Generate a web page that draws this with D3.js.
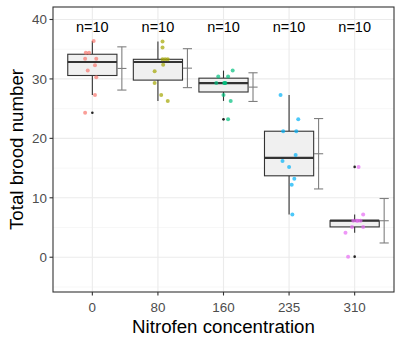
<!DOCTYPE html>
<html>
<head>
<meta charset="utf-8">
<style>
  body { margin: 0; background: #fff; }
  text { font-family: "Liberation Sans", Arial, sans-serif; }
</style>
</head>
<body>
<svg id="chart" width="402" height="344"></svg>
<script src="https://cdn.jsdelivr.net/npm/d3@7"></script>
<script>
// concentration groups
const groups = ["0", "80", "160", "235", "310"]
const colors = ["#F8766D", "#A3A500", "#00BF7D", "#00B0F6", "#E76BF3"]

// total brood number per replicate
const brood0   = [36.4, 34.4, 34.4, 33.4, 33.4, 32.3, 31.4, 30.3, 27.3, 24.3]
const brood80  = [36.3, 35.3, 33.3, 33.3, 33.3, 32.4, 31.3, 29.3, 27.3, 26.3]
const brood160 = [31.4, 30.4, 30.4, 29.3, 29.3, 29.3, 29.3, 27.3, 26.3, 23.2]
const brood235 = [27.3, 23.2, 21.2, 21.2, 17.2, 16.2, 15.2, 13.2, 12.2, 7.2]
const brood310 = [15.2, 7.2, 6.15, 6.15, 6.15, 6.15, 5.1, 5.1, 4.1, 0.1]

// horizontal jitter of each point (fraction of category step)
const jit0   = [0.02, -0.1, -0.05, -0.11, 0.06, 0.04, -0.07, 0.06, 0.04, -0.11]
const jit80  = [0.07, 0.07, 0.07, 0.11, 0.15, 0.08, -0.05, -0.05, 0.05, 0.15]
const jit160 = [0.14, -0.08, 0.07, -0.11, 0.02, 0.03, 0.01, 0, 0.11, 0.07]
const jit235 = [-0.13, 0.14, -0.09, 0.11, 0.1, -0.1, 0, 0.08, 0.04, 0.05]
const jit310 = [0.06, 0.13, -0.02, 0.03, 0.09, 0.05, -0.04, 0.13, -0.14, -0.1]

const yTicks = [0, 10, 20, 30, 40]
const yMinor = [-5, 5, 15, 25, 35]
const labelValue = 38.7

const allBrood = [brood0, brood80, brood160, brood235, brood310]
const allJit = [jit0, jit80, jit160, jit235, jit310]

let svg = d3.select("#chart")
let pLeft = 53, pRight = 394, pTop = 7, pBottom = 292

let x = d3.scalePoint().domain(groups).range([pLeft, pRight]).padding(0.6)
let y = d3.scaleLinear().domain([-5.85, 42.1]).range([pBottom, pTop])
let step = x.step()

// grid
let grid = svg.append("g")
grid.selectAll(".minor").data(yMinor).enter().append("line")
    .attr("x1", pLeft).attr("x2", pRight)
    .attr("y1", d => y(d)).attr("y2", d => y(d))
    .attr("stroke", "#F2F2F2").attr("stroke-width", 0.6)
grid.selectAll(".major").data(yTicks).enter().append("line")
    .attr("x1", pLeft).attr("x2", pRight)
    .attr("y1", d => y(d)).attr("y2", d => y(d))
    .attr("stroke", "#EBEBEB").attr("stroke-width", 1.1)
grid.selectAll(".vmajor").data(groups).enter().append("line")
    .attr("x1", d => x(d)).attr("x2", d => x(d))
    .attr("y1", pTop).attr("y2", pBottom)
    .attr("stroke", "#EBEBEB").attr("stroke-width", 1.1)

// box stats (R type 7 quantiles)
let stats = allBrood.map((vals, i) => {
    let s = vals.slice().sort(d3.ascending)
    let q1 = d3.quantile(s, 0.25), med = d3.quantile(s, 0.5), q3 = d3.quantile(s, 0.75)
    let iqr = q3 - q1
    let inside = s.filter(v => v >= q1 - 1.5 * iqr && v <= q3 + 1.5 * iqr)
    return {
        g: groups[i], q1, med, q3,
        lo: d3.min(inside), hi: d3.max(inside),
        out: s.filter(v => v < q1 - 1.5 * iqr || v > q3 + 1.5 * iqr),
        mean: d3.mean(vals), sd: d3.deviation(vals)
    }
})

let boxW = step * 0.75
let boxes = svg.append("g").selectAll("g").data(stats).enter().append("g")
boxes.append("line")
    .attr("x1", d => x(d.g)).attr("x2", d => x(d.g))
    .attr("y1", d => y(d.hi)).attr("y2", d => y(d.q3))
    .attr("stroke", "#333").attr("stroke-width", 1.1)
boxes.append("line")
    .attr("x1", d => x(d.g)).attr("x2", d => x(d.g))
    .attr("y1", d => y(d.q1)).attr("y2", d => y(d.lo))
    .attr("stroke", "#333").attr("stroke-width", 1.1)
boxes.append("rect")
    .attr("x", d => x(d.g) - boxW / 2).attr("width", boxW)
    .attr("y", d => y(d.q3)).attr("height", d => y(d.q1) - y(d.q3))
    .attr("fill", "#F0F0F0").attr("stroke", "#333").attr("stroke-width", 1.1)
boxes.append("line")
    .attr("x1", d => x(d.g) - boxW / 2).attr("x2", d => x(d.g) + boxW / 2)
    .attr("y1", d => y(d.med)).attr("y2", d => y(d.med))
    .attr("stroke", "#333").attr("stroke-width", 2.2)
boxes.selectAll("circle").data(d => d.out.map(v => ({g: d.g, v}))).enter().append("circle")
    .attr("cx", d => x(d.g)).attr("cy", d => y(d.v)).attr("r", 1.3)
    .attr("fill", "#222")

// mean +- sd error bars
let ex = step * 0.45, cap = step * 0.07
let eb = svg.append("g").selectAll("g").data(stats).enter().append("g")
    .attr("stroke", "#7F7F7F").attr("stroke-width", 1.1)
eb.append("line")
    .attr("x1", d => x(d.g) + ex).attr("x2", d => x(d.g) + ex)
    .attr("y1", d => y(d.mean + d.sd)).attr("y2", d => y(d.mean - d.sd))
eb.append("line")
    .attr("x1", d => x(d.g) + ex - cap).attr("x2", d => x(d.g) + ex + cap)
    .attr("y1", d => y(d.mean + d.sd)).attr("y2", d => y(d.mean + d.sd))
eb.append("line")
    .attr("x1", d => x(d.g) + ex - cap).attr("x2", d => x(d.g) + ex + cap)
    .attr("y1", d => y(d.mean - d.sd)).attr("y2", d => y(d.mean - d.sd))
eb.append("line")
    .attr("x1", d => x(d.g) + ex - cap).attr("x2", d => x(d.g) + ex + cap)
    .attr("y1", d => y(d.mean)).attr("y2", d => y(d.mean))

// jittered points
let pts = []
allBrood.forEach((vals, i) => vals.forEach((v, j) => pts.push({g: groups[i], c: colors[i], v, jx: allJit[i][j]})))
svg.append("g").selectAll("circle").data(pts).enter().append("circle")
    .attr("cx", d => x(d.g) + d.jx * step).attr("cy", d => y(d.v)).attr("r", 2)
    .attr("fill", d => d.c).attr("fill-opacity", 0.7)

// n labels
svg.append("g").selectAll("text").data(allBrood).enter().append("text")
    .attr("x", (d, i) => x(groups[i])).attr("y", y(labelValue))
    .attr("dy", "0.36em").attr("text-anchor", "middle")
    .attr("font-size", "14.5px").attr("fill", "#000")
    .text(d => "n=" + d.length)

// border
svg.append("rect").attr("x", pLeft).attr("y", pTop)
    .attr("width", pRight - pLeft).attr("height", pBottom - pTop)
    .attr("fill", "none").attr("stroke", "#333").attr("stroke-width", 1.1)

// axes
let ya = svg.append("g").selectAll("g").data(yTicks).enter().append("g")
ya.append("line").attr("x1", pLeft - 3.5).attr("x2", pLeft)
    .attr("y1", d => y(d)).attr("y2", d => y(d)).attr("stroke", "#333").attr("stroke-width", 1.1)
ya.append("text").attr("x", pLeft - 6).attr("y", d => y(d)).attr("dy", "0.36em")
    .attr("text-anchor", "end").attr("font-size", "13.4px").attr("fill", "#4D4D4D")
    .text(d => d)

let xa = svg.append("g").selectAll("g").data(groups).enter().append("g")
xa.append("line").attr("x1", d => x(d)).attr("x2", d => x(d))
    .attr("y1", pBottom).attr("y2", pBottom + 3.5).attr("stroke", "#333").attr("stroke-width", 1.1)
xa.append("text").attr("x", d => x(d)).attr("y", pBottom + 19.7)
    .attr("text-anchor", "middle").attr("font-size", "13.4px").attr("fill", "#4D4D4D")
    .text(d => d)

svg.append("text").attr("x", (pLeft + pRight) / 2).attr("y", 333.3)
    .attr("text-anchor", "middle").attr("font-size", "18.7px").attr("fill", "#000")
    .text("Nitrofen concentration")
svg.append("text").attr("transform", `translate(23,${(pTop + pBottom) / 2}) rotate(-90)`)
    .attr("text-anchor", "middle").attr("font-size", "18.7px").attr("fill", "#000")
    .text("Total brood number")
</script>
</body>
</html>
